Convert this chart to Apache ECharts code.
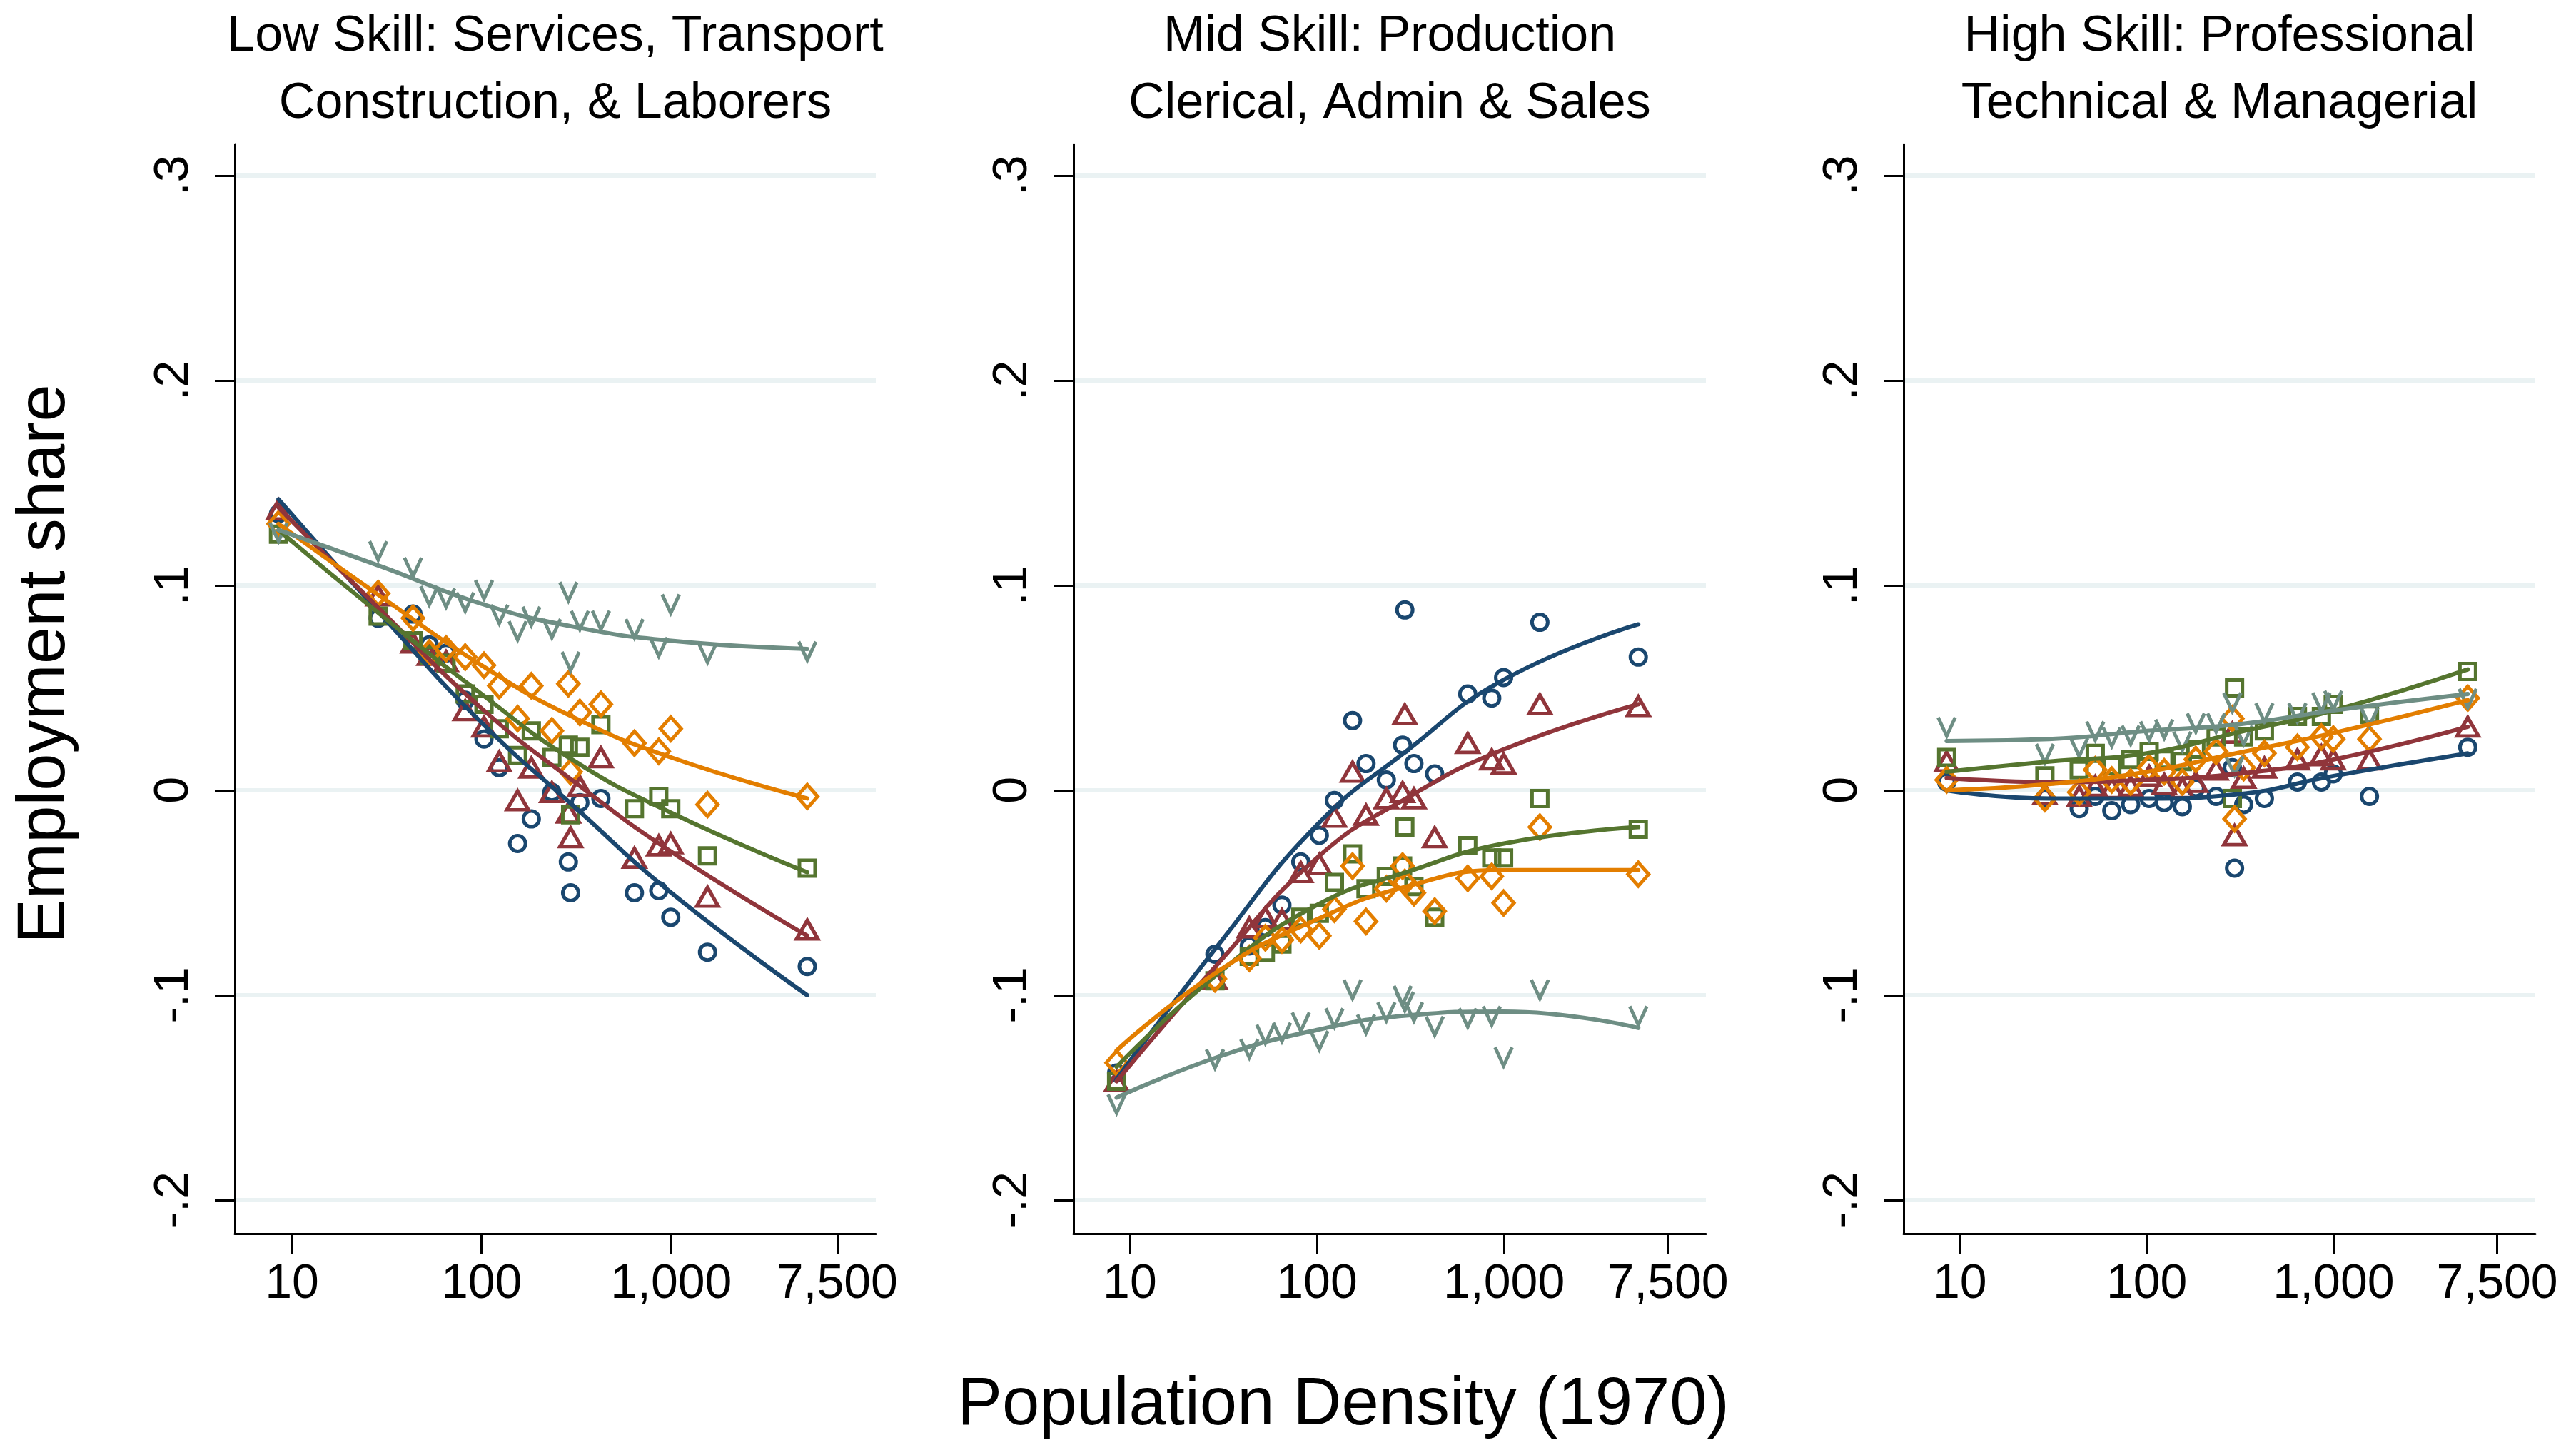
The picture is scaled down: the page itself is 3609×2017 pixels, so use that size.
<!DOCTYPE html>
<html>
<head>
<meta charset="utf-8">
<title>Employment share by population density</title>
<script src="https://cdn.jsdelivr.net/npm/echarts@6.0.0/dist/echarts.min.js"></script>
<style>
  html, body { margin: 0; padding: 0; background: #fff; }
  #chart { width: 3609px; height: 2017px; }
</style>
</head>
<body>
<div id="chart"></div>
<script>
// density bins (1970), shared by all panels
const density = [8.5, 28.5, 43.5, 53, 65, 82, 103, 124, 155, 183, 235, 287, 295, 330, 426, 640, 860, 995, 1555, 5220];
// x positions where the fitted curves were read
const fitDensity = [8.5, 30, 100, 300, 1000, 5220];

const xTicks = [10, 100, 1000, 7500];
const yTicks = [-0.2, -0.1, 0, 0.1, 0.2, 0.3];

const panelTitles = [
  "Low Skill: Services, Transport\nConstruction, & Laborers",
  "Mid Skill: Production\nClerical, Admin & Sales",
  "High Skill: Professional\nTechnical & Managerial",
];

// low skill
const lowNavy = [0.135, 0.084, 0.086, 0.071, 0.067, 0.044, 0.025, 0.011, -0.026, -0.014, -0.001, -0.035, -0.050, -0.006, -0.004, -0.050, -0.049, -0.062, -0.079, -0.086];
const lowMaroon = [0.137, 0.095, 0.072, 0.066, 0.063, 0.039, 0.031, 0.014, -0.005, 0.011, -0.001, -0.011, -0.023, 0.002, 0.016, -0.033, -0.027, -0.026, -0.052, -0.068];
const lowGreen = [0.125, 0.085, 0.073, 0.066, 0.062, 0.047, 0.042, 0.030, 0.017, 0.029, 0.016, 0.022, -0.012, 0.021, 0.032, -0.009, -0.003, -0.009, -0.032, -0.038];
const lowOrange = [0.130, 0.096, 0.084, 0.067, 0.069, 0.065, 0.061, 0.051, 0.035, 0.051, 0.029, 0.052, 0.009, 0.038, 0.042, 0.023, 0.019, 0.030, -0.007, -0.003];
const lowTeal = [0.126, 0.117, 0.109, 0.095, 0.094, 0.092, 0.098, 0.086, 0.078, 0.085, 0.079, 0.097, 0.063, 0.083, 0.083, 0.079, 0.070, 0.091, 0.067, 0.068];

const lowNavyFit = [0.142, 0.085, 0.033, -0.007, -0.050, -0.100];
const lowMaroonFit = [0.138, 0.087, 0.040, 0.005, -0.030, -0.071];
const lowGreenFit = [0.127, 0.085, 0.047, 0.015, -0.011, -0.040];
const lowOrangeFit = [0.130, 0.094, 0.061, 0.036, 0.016, -0.004];
const lowTealFit = [0.127, 0.109, 0.091, 0.080, 0.073, 0.069];

// mid skill
const midNavy = [-0.138, -0.080, -0.076, -0.067, -0.056, -0.035, -0.022, -0.005, 0.034, 0.013, 0.005, 0.022, 0.088, 0.013, 0.008, 0.047, 0.045, 0.055, 0.082, 0.065];
const midMaroon = [-0.142, -0.092, -0.067, -0.062, -0.063, -0.040, -0.036, -0.013, 0.009, -0.012, -0.004, -0.001, 0.037, -0.004, -0.023, 0.023, 0.015, 0.013, 0.042, 0.041];
const midGreen = [-0.142, -0.093, -0.081, -0.079, -0.075, -0.062, -0.060, -0.045, -0.031, -0.048, -0.042, -0.037, -0.018, -0.047, -0.062, -0.027, -0.033, -0.033, -0.004, -0.019];
const midOrange = [-0.133, -0.092, -0.082, -0.072, -0.073, -0.068, -0.071, -0.058, -0.037, -0.064, -0.048, -0.037, -0.045, -0.050, -0.059, -0.043, -0.042, -0.055, -0.018, -0.041];
const midTeal = [-0.153, -0.131, -0.126, -0.119, -0.118, -0.113, -0.122, -0.111, -0.097, -0.114, -0.108, -0.100, -0.103, -0.108, -0.115, -0.111, -0.110, -0.130, -0.097, -0.110];

const midNavyFit = [-0.141, -0.075, -0.017, 0.019, 0.054, 0.081];
const midMaroonFit = [-0.142, -0.084, -0.033, -0.004, 0.020, 0.042];
const midGreenFit = [-0.135, -0.089, -0.056, -0.040, -0.026, -0.018];
const midOrangeFit = [-0.127, -0.088, -0.063, -0.047, -0.039, -0.039];
const midTealFit = [-0.150, -0.130, -0.117, -0.110, -0.108, -0.116];

// high skill
const highNavy = [0.004, -0.004, -0.009, -0.003, -0.010, -0.007, -0.004, -0.006, -0.008, 0.001, -0.003, 0.011, -0.038, -0.007, -0.004, 0.004, 0.004, 0.008, -0.003, 0.021];
const highMaroon = [0.014, -0.002, -0.003, 0.002, 0.001, 0.002, 0.007, 0.003, 0.001, 0.004, 0.010, 0.028, -0.022, 0.006, 0.011, 0.015, 0.017, 0.015, 0.015, 0.031];
const highGreen = [0.016, 0.007, 0.010, 0.018, 0.012, 0.015, 0.019, 0.015, 0.014, 0.020, 0.026, -0.004, 0.050, 0.026, 0.029, 0.036, 0.036, 0.042, 0.037, 0.058];
const highOrange = [0.005, -0.004, -0.001, 0.010, 0.005, 0.004, 0.011, 0.009, 0.004, 0.015, 0.019, 0.035, -0.014, 0.011, 0.018, 0.021, 0.026, 0.025, 0.025, 0.045];
const highTeal = [0.031, 0.018, 0.021, 0.029, 0.026, 0.027, 0.029, 0.030, 0.024, 0.033, 0.033, 0.043, 0.012, 0.027, 0.038, 0.038, 0.043, 0.044, 0.036, 0.045];

const highNavyFit = [0.000, -0.004, -0.004, -0.002, 0.007, 0.018];
const highMaroonFit = [0.006, 0.004, 0.005, 0.008, 0.015, 0.031];
const highGreenFit = [0.009, 0.014, 0.018, 0.028, 0.039, 0.059];
const highOrangeFit = [0.000, 0.003, 0.009, 0.018, 0.028, 0.044];
const highTealFit = [0.024, 0.025, 0.029, 0.032, 0.039, 0.047];

const panelPoints = [
  [lowNavy, lowMaroon, lowGreen, lowOrange, lowTeal],
  [midNavy, midMaroon, midGreen, midOrange, midTeal],
  [highNavy, highMaroon, highGreen, highOrange, highTeal],
];
const panelFits = [
  [lowNavyFit, lowMaroonFit, lowGreenFit, lowOrangeFit, lowTealFit],
  [midNavyFit, midMaroonFit, midGreenFit, midOrangeFit, midTealFit],
  [highNavyFit, highMaroonFit, highGreenFit, highOrangeFit, highTealFit],
];

// stata s2color look
const colors = ["#1a476f", "#90353b", "#55752f", "#e37e00", "#6e8e84"];
const symbols = ["circle", "triangle", "rect", "diamond", "path://M0,0L10,20L20,0"];
const symbolSizes = [22, [30, 26], 22, [29, 33], [24, 26]];
const font = "'Liberation Sans', Helvetica, Arial, sans-serif";

const gridBoxes = [
  { left: 329, width: 898 },
  { left: 1504, width: 886 },
  { left: 2667, width: 885 },
];

const fmtX = (v) => String(Math.round(v)).replace(/\B(?=(\d{3})+(?!\d))/g, ",");
const fmtY = (v) => {
  if (Math.abs(v) < 1e-9) return "0";
  const s = String(Math.abs(+v.toFixed(2))).replace(/^0/, "");
  return (v < 0 ? "-" : "") + s;
};

const grid = gridBoxes.map((g) => ({ left: g.left, width: g.width, top: 202, height: 1526 }));

const xAxis = gridBoxes.map((g, i) => ({
  type: "log",
  logBase: 10,
  gridIndex: i,
  min: 5,
  max: 12000,
  axisLine: { show: true, onZero: false, lineStyle: { color: "#000", width: 3 } },
  axisTick: { show: true, customValues: xTicks, length: 29, lineStyle: { color: "#000", width: 3 } },
  axisLabel: { customValues: xTicks, margin: 37, fontSize: 68, color: "#000", fontFamily: font, formatter: fmtX },
  minorTick: { show: false },
  splitLine: { show: false },
}));

const yAxis = gridBoxes.map((g, i) => ({
  type: "value",
  gridIndex: i,
  min: -0.2164,
  max: 0.3153,
  axisLine: { show: true, onZero: false, lineStyle: { color: "#000", width: 3 } },
  axisTick: { show: true, customValues: yTicks, length: 28, lineStyle: { color: "#000", width: 3 } },
  axisLabel: { customValues: yTicks, rotate: 90, margin: 51, fontSize: 68, color: "#000", fontFamily: font, formatter: fmtY },
  splitLine: { show: true, lineStyle: { color: "#eaf2f3", width: 6 } },
}));

const series = [];
panelPoints.forEach((group, i) => {
  group.forEach((ys, k) => {
    series.push({
      type: "scatter",
      xAxisIndex: i,
      yAxisIndex: i,
      symbol: symbols[k],
      symbolSize: symbolSizes[k],
      data: density.map((d, j) => [d, ys[j]]),
      itemStyle: { color: "rgba(0,0,0,0)", borderColor: colors[k], borderWidth: 5, opacity: 1 },
      emphasis: { disabled: true },
      z: 2,
    });
  });
});
panelFits.forEach((group, i) => {
  group.forEach((ys, k) => {
    series.push({
      type: "line",
      xAxisIndex: i,
      yAxisIndex: i,
      smooth: true,
      showSymbol: false,
      symbol: "none",
      data: fitDensity.map((d, j) => [d, ys[j]]),
      lineStyle: { color: colors[k], width: 6, cap: "round" },
      emphasis: { disabled: true },
      z: 3,
    });
  });
});

const title = panelTitles.map((t, i) => ({
  text: t,
  left: gridBoxes[i].left + gridBoxes[i].width / 2,
  top: 5,
  textAlign: "center",
  padding: 0,
  textStyle: { fontSize: 70, lineHeight: 94, fontWeight: "normal", color: "#000", fontFamily: font },
}));
title.push({
  text: "Population Density (1970)",
  left: 1882,
  top: 1922,
  textAlign: "center",
  padding: 0,
  textStyle: { fontSize: 94, fontWeight: "normal", color: "#000", fontFamily: font },
});

const chart = echarts.init(document.getElementById("chart"), null, { renderer: "canvas" });
chart.setOption({
  backgroundColor: "#ffffff",
  animation: false,
  title,
  grid,
  xAxis,
  yAxis,
  series,
  graphic: [
    {
      type: "text",
      x: 64,
      y: 930,
      rotation: Math.PI / 2,
      style: {
        text: "Employment share",
        font: "normal 94px " + font,
        fill: "#000",
        align: "center",
        verticalAlign: "middle",
      },
    },
  ],
});
</script>
</body>
</html>
